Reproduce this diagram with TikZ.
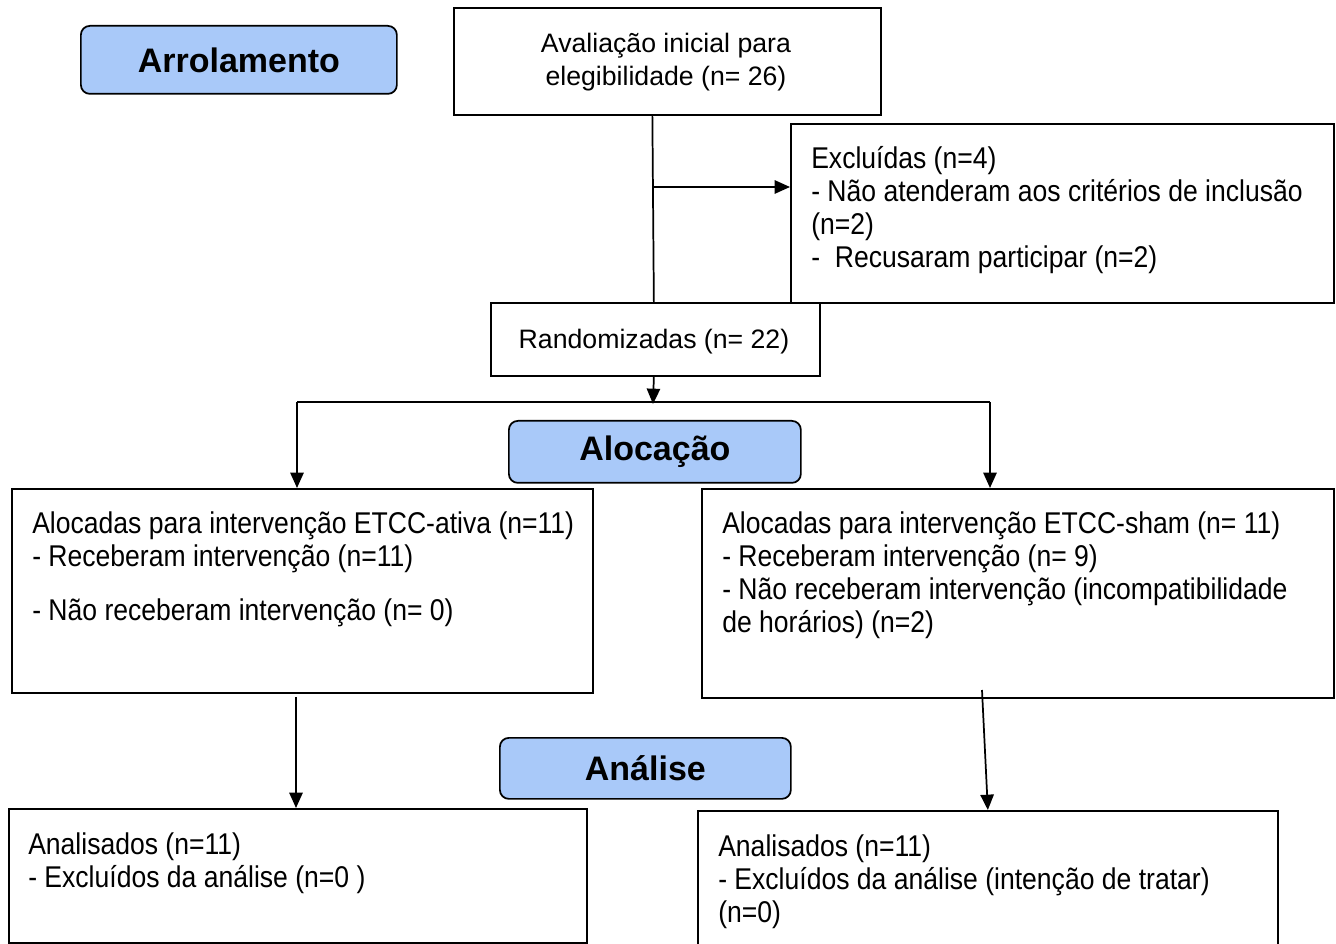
\documentclass[tikz,border=0pt]{standalone}
\usepackage{fontspec}
\setmainfont{Liberation Sans}
\newfontfamily\tallfont[FakeStretch=0.885]{Liberation Sans}
\usetikzlibrary{arrows.meta}
\definecolor{stage}{HTML}{A9C9F9}
\newdimen\px \px=0.75pt
\tikzset{
  box/.style={draw=black, line width=1.3pt, fill=white, anchor=north west, inner sep=0pt},
  stagebox/.style={box, fill=stage, rounded corners=9\px, font=\bfseries\fontsize{25.5}{30}\selectfont},
  txt/.style={anchor=base west, inner sep=0pt, align=left, font=\tallfont\fontsize{22.5}{24.75}\selectfont},
  ctxt/.style={anchor=base, inner sep=0pt, align=center, font=\fontsize{20}{24.75}\selectfont},
  line/.style={draw=black, line width=1.3pt},
  arr/.style={line, -{Triangle[length=11.5pt, width=10pt]}},
}

\begin{document}
\begin{tikzpicture}[x=0.75pt, y=-0.75pt]
  \useasboundingbox (0,0) rectangle (1336,944);

  % stages
  \node[stagebox, minimum width=316\px, minimum height=68\px] (arrol) at (80,25) {Arrolamento};
  \node[stagebox, minimum width=292\px, minimum height=62\px] (aloc) at (508,420) {Alocação};
  \node[stagebox, minimum width=291\px, minimum height=61\px] (anal) at (499,737) {Análise};

  % boxes
  \node[box, minimum width=427\px, minimum height=107\px] (aval) at (453,7) {};
  \node[box, minimum width=543\px, minimum height=179\px] (excl) at (790,123) {};
  \node[box, minimum width=329\px, minimum height=73\px] (rand) at (490,302) {};
  \node[box, minimum width=581\px, minimum height=204\px] (alocL) at (11,488) {};
  \node[box, minimum width=632\px, minimum height=209\px] (alocR) at (701,488) {};
  \node[box, minimum width=578\px, minimum height=134\px] (anL) at (8,808) {};
  \node[box, minimum width=580\px, minimum height=140\px] (anR) at (697,810) {};

  % texts (placed at the baseline of their last line)
  \node[ctxt] (avaltxt) at (666,86) {Avaliação inicial para\\elegibilidade (n= 26)};
  \node[ctxt] (randtxt) at (654,349) {Randomizadas (n= 22)};
  \node[txt] (excltxt) at (811,268) {Excluídas (n=4)\\- Não atenderam aos critérios de inclusão\\(n=2)\\-\ \ Recusaram participar (n=2)};
  \node[txt] (alocLtxt) at (32,621) {Alocadas para intervenção ETCC-ativa (n=11)\\- Receberam intervenção (n=11)\\[22\px]- Não receberam intervenção (n= 0)};
  \node[txt] (alocRtxt) at (722,633) {Alocadas para intervenção ETCC-sham (n= 11)\\- Receberam intervenção (n= 9)\\- Não receberam intervenção (incompatibilidade\\de horários) (n=2)};
  \node[txt] (anLtxt) at (28,887) {Analisados (n=11)\\- Excluídos da análise (n=0 )};
  \node[txt] (anRtxt) at (718,922) {Analisados (n=11)\\- Excluídos da análise (intenção de tratar)\\(n=0)};

  % connectors
  \coordinate (split) at (654,187);
  \coordinate (fork) at (653,404);
  \coordinate (forkL) at (297,402);
  \coordinate (forkR) at (990,402);
  \coordinate (downL) at (296,697);
  \coordinate (downR) at (982,690);
  \draw[line] ([xshift=-15\px]aval.south) -- ([xshift=-1.5\px]rand.north);
  \draw[arr] (split) -- (split -| excl.west);
  \draw[arr] ([xshift=-1.5\px]rand.south) -- (fork);
  \draw[line] (forkL) -- (forkR);
  \draw[arr] (forkL) -- (forkL |- alocL.north);
  \draw[arr] (forkR) -- (forkR |- alocR.north);
  \draw[arr] (downL) -- (downL |- anL.north);
  \draw[arr] (downR) -- (anR.north);
\end{tikzpicture}
\end{document}
